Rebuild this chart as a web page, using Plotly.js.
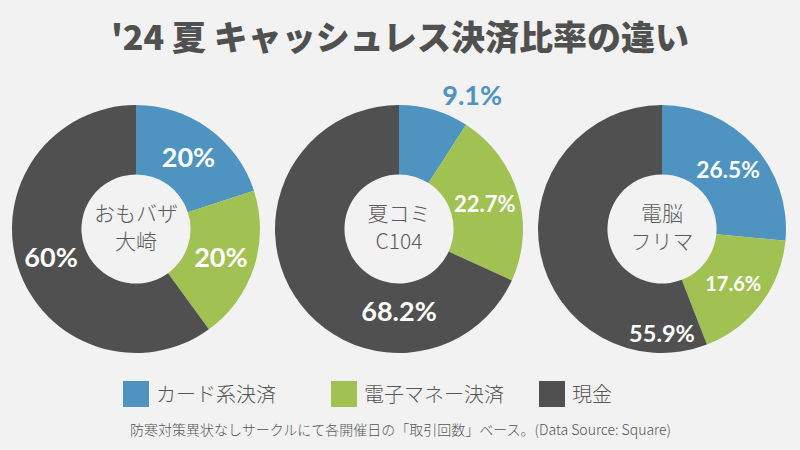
<!DOCTYPE html>
<html>
<head>
<meta charset="utf-8">
<script src="https://cdn.plot.ly/plotly-3.0.1.min.js"></script>
<style>
  html, body { margin: 0; padding: 0; background: #f2f2f2; }
  #chart { width: 800px; height: 450px; }
</style>
</head>
<body>
<div id="chart"></div>
<script>
// ---- data ----
const categories = ['カード系決済', '電子マネー決済', '現金'];
const eventNames = ['おもバザ<br>大崎', '夏コミ<br>C104', '電脳<br>フリマ'];
const valuesOmobaza = [20, 20, 60];
const valuesComiket = [9.1, 22.7, 68.2];
const valuesDennou = [26.5, 17.6, 55.9];
const titleText = "'24 夏 キャッシュレス決済比率の違い";
const footnoteText = '防寒対策異状なしサークルにて各開催日の「取引回数」ベース。(Data Source: Square)';

// ---- styles ----
const colors = ['#4f93c0', '#a1c152', '#505050'];
const pctFont = 'Lato, "Noto Sans", sans-serif';
const jpFont = '"Noto Sans CJK JP", "Noto Sans", sans-serif';
const W = 800, H = 450;
const pieCentersX = [136, 399, 662];
const pieCenterY = 229, pieR = 124;

function domainFor(cx) {
  return {
    x: [(cx - pieR) / W, (cx + pieR) / W],
    y: [(H - pieCenterY - pieR) / H, (H - pieCenterY + pieR) / H]
  };
}

function makePie(values, name, idx, textpos, sizes) {
  return {
    type: 'pie',
    labels: categories,
    values: values,
    name: name,
    domain: domainFor(pieCentersX[idx]),
    hole: 0.44,
    sort: false,
    direction: 'clockwise',
    rotation: 0,
    marker: { colors: colors, line: { width: 0 } },
    texttemplate: '%{value}%',
    textposition: textpos,
    insidetextorientation: 'horizontal',
    insidetextfont: { family: pctFont, size: sizes, color: '#ffffff', weight: 700 },
    outsidetextfont: { family: pctFont, size: 27, color: colors[0], weight: 700 },
    automargin: false,
    hoverinfo: 'none',
    showlegend: idx === 0,
    title: {
      text: name,
      position: 'middle center',
      font: { family: jpFont, size: 21, color: '#5a5a5a', weight: 300 }
    }
  };
}

const data = [
  makePie(valuesOmobaza, eventNames[0], 0, ['inside', 'inside', 'inside'], [27, 27, 27]),
  makePie(valuesComiket, eventNames[1], 1, ['outside', 'inside', 'inside'], [27, 22, 27]),
  makePie(valuesDennou, eventNames[2], 2, ['inside', 'inside', 'inside'], [27, 20, 27])
];

const layout = {
  width: W, height: H,
  paper_bgcolor: '#f2f2f2',
  plot_bgcolor: '#f2f2f2',
  margin: { l: 0, r: 0, t: 0, b: 0 },
  title: {
    text: titleText,
    x: 0.5, xanchor: 'center',
    y: 1 - 38 / H, yanchor: 'middle',
    font: { family: jpFont, size: 34, color: '#505050', weight: 900 }
  },
  showlegend: true,
  legend: {
    orientation: 'h',
    x: 116 / W, xanchor: 'left',
    y: 1 - 394 / H, yanchor: 'middle',
    entrywidth: 163, entrywidthmode: 'pixels',
    font: { family: jpFont, size: 20, color: '#555555', weight: 300 },
    bgcolor: 'rgba(0,0,0,0)',
    traceorder: 'normal'
  },
  annotations: [{
    text: footnoteText,
    xref: 'paper', yref: 'paper',
    x: 0.5, xanchor: 'center',
    y: 1 - 429 / H, yanchor: 'middle',
    showarrow: false,
    font: { family: jpFont, size: 14, color: '#555555', weight: 300 }
  }]
};

Plotly.newPlot('chart', data, layout, { staticPlot: true, displayModeBar: false }).then(function () {
  document.querySelectorAll('.legend .legendpoints path').forEach(function (p) {
    p.setAttribute('d', 'M13,13H-13V-13H13Z');
    p.style.strokeWidth = '0';
  });
});
</script>
</body>
</html>
